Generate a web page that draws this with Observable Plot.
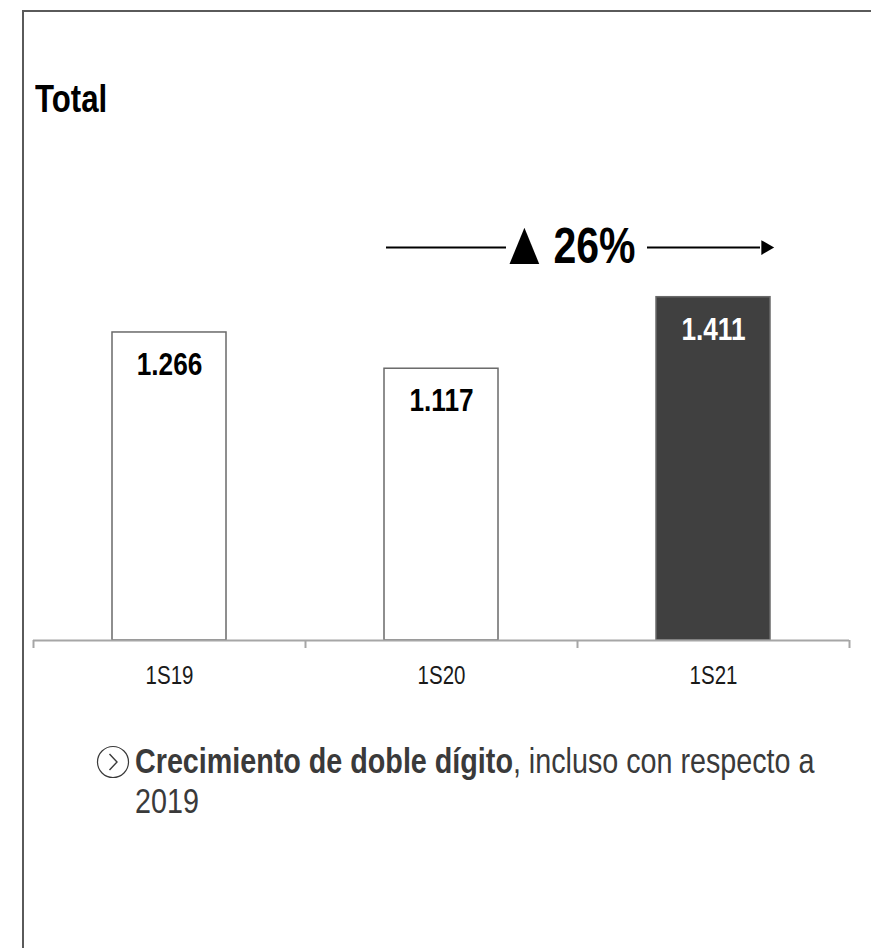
<!DOCTYPE html>
<html>
<head>
<meta charset="utf-8">
<script src="https://cdn.jsdelivr.net/npm/d3@7"></script>
<script src="https://cdn.jsdelivr.net/npm/@observablehq/plot@0.6"></script>
<style>
  html, body { margin: 0; padding: 0; background: #fff; }
  body { width: 871px; height: 948px; position: relative; overflow: hidden;
         font-family: "Liberation Sans", Arial, sans-serif; }
  #frame { position: absolute; left: 22px; top: 10px; width: 900px; height: 1000px;
           border: 2px solid #5a5a5a; box-sizing: border-box; }
  #title { position: absolute; left: 35px; top: 78px; font-size: 38px; font-weight: bold; color: #000;
           transform: scaleX(0.82); transform-origin: 0 0; }
  #chart { position: absolute; left: 0; top: 150px; }
  #icon { position: absolute; left: 96px; top: 745px; }
  #note { position: absolute; left: 135px; top: 741px; width: 860px; color: #3a3a3a; font-size: 35px; line-height: 40px;
          transform: scaleX(0.82); transform-origin: 0 0; }
  #note div { white-space: nowrap; }
</style>
</head>
<body>
<div id="frame"></div>
<div id="title">Total</div>
<div id="chart"></div>
<svg id="icon" width="34" height="34" viewBox="0 0 34 34">
  <circle cx="17" cy="17" r="15.5" fill="none" stroke="#3a3a3a" stroke-width="1.2"/>
  <polyline points="13.5,9 21,17 13.5,25" fill="none" stroke="#3a3a3a" stroke-width="1.4"/>
</svg>
<div id="note"><div><b>Crecimiento de doble dígito</b><span>, incluso con respecto a</span></div><div>2019</div></div>
<script>
const categories = ["1S19", "1S20", "1S21"];
const values = [1.266, 1.117, 1.411];
const valueLabels = ["1.266", "1.117", "1.411"];
const barFills = ["#ffffff", "#ffffff", "#404040"];
const labelFills = ["#000000", "#000000", "#ffffff"];
const growthSymbol = "▲";
const growthPct = "26%";
const growthFrom = "1S20";
const growthTo = "1S21";
const growthLevel = 1.615;

const data = categories.map((c, i) => ({
  cat: c, value: values[i], label: valueLabels[i], fill: barFills[i], labelFill: labelFills[i]
}));

const W = 871, H = 560, mL = 33, mR = 22;
const padInner = 0.58, padOuter = 0.29;
const step = (W - mL - mR) / (categories.length - padInner + 2 * padOuter);
const bw = step * (1 - padInner);
const FONT = '"Liberation Sans", Arial, sans-serif';

const chart = Plot.plot({
  width: W,
  height: H,
  marginLeft: mL,
  marginRight: mR,
  marginTop: 0,
  marginBottom: 70,
  style: { fontFamily: FONT, background: "transparent", overflow: "visible" },
  x: { type: "band", domain: categories, paddingInner: padInner, paddingOuter: padOuter, align: 0.5 },
  y: { domain: [0, 490 / 243.3], axis: null },
  marks: [
    Plot.barY(data, { x: "cat", y: "value", fill: "fill", stroke: "#6a6a6a", strokeWidth: 1.5 }),
    Plot.text(data, { x: "cat", y: "value", text: "label", fill: "labelFill", fontSize: 32, fontWeight: "bold", lineAnchor: "top", dy: 20 }),
    Plot.ruleY([0], { stroke: "#a6a6a6", strokeWidth: 2 }),
    Plot.ruleX(categories, { x: d => d, y1: 0, y2: 0, dx: -step / 2, insetBottom: -8, stroke: "#a6a6a6", strokeWidth: 2 }),
    Plot.ruleX(categories.slice(-1), { x: d => d, y1: 0, y2: 0, dx: step / 2, insetBottom: -8, stroke: "#a6a6a6", strokeWidth: 2 }),
    Plot.axisX({ tickSize: 0, tickPadding: 26, fontSize: 25, fill: "#1a1a1a", label: null }),
    // growth arrow: two segments around the label, plus arrowhead
    Plot.ruleY([growthLevel], { x1: () => growthFrom, x2: () => growthTo, y: d => d, stroke: "#000", strokeWidth: 2, insetLeft: 2, insetRight: 264 }),
    Plot.ruleY([growthLevel], { x1: () => growthFrom, x2: () => growthTo, y: d => d, stroke: "#000", strokeWidth: 2, insetLeft: 263, insetRight: 10 }),
    Plot.dot([growthTo], { x: d => d, y: () => growthLevel, symbol: "triangle", rotate: 90, r: 5.5, fill: "#000", stroke: "none", dx: bw / 2 - 5 }),
    Plot.text([growthSymbol], { x: () => growthTo, y: () => growthLevel, dx: -step / 2 - 28, dy: 16, text: d => d, fontSize: 62, fontWeight: "bold", fill: "#000", textAnchor: "end", lineAnchor: "bottom" }),
    Plot.text([growthPct], { x: () => growthTo, y: () => growthLevel, dx: -step / 2 - 24, dy: 15, text: d => d, fontSize: 50, fontWeight: "bold", fill: "#000", textAnchor: "start", lineAnchor: "bottom" })
  ]
});
// condensed (narrow) lettering: squeeze every text horizontally around its anchor
d3.select(chart).selectAll("text").each(function () {
  const t = this.getAttribute("transform") || "";
  this.setAttribute("transform", t + " scale(0.82,1)");
});
document.getElementById("chart").appendChild(chart);
</script>
</body>
</html>
